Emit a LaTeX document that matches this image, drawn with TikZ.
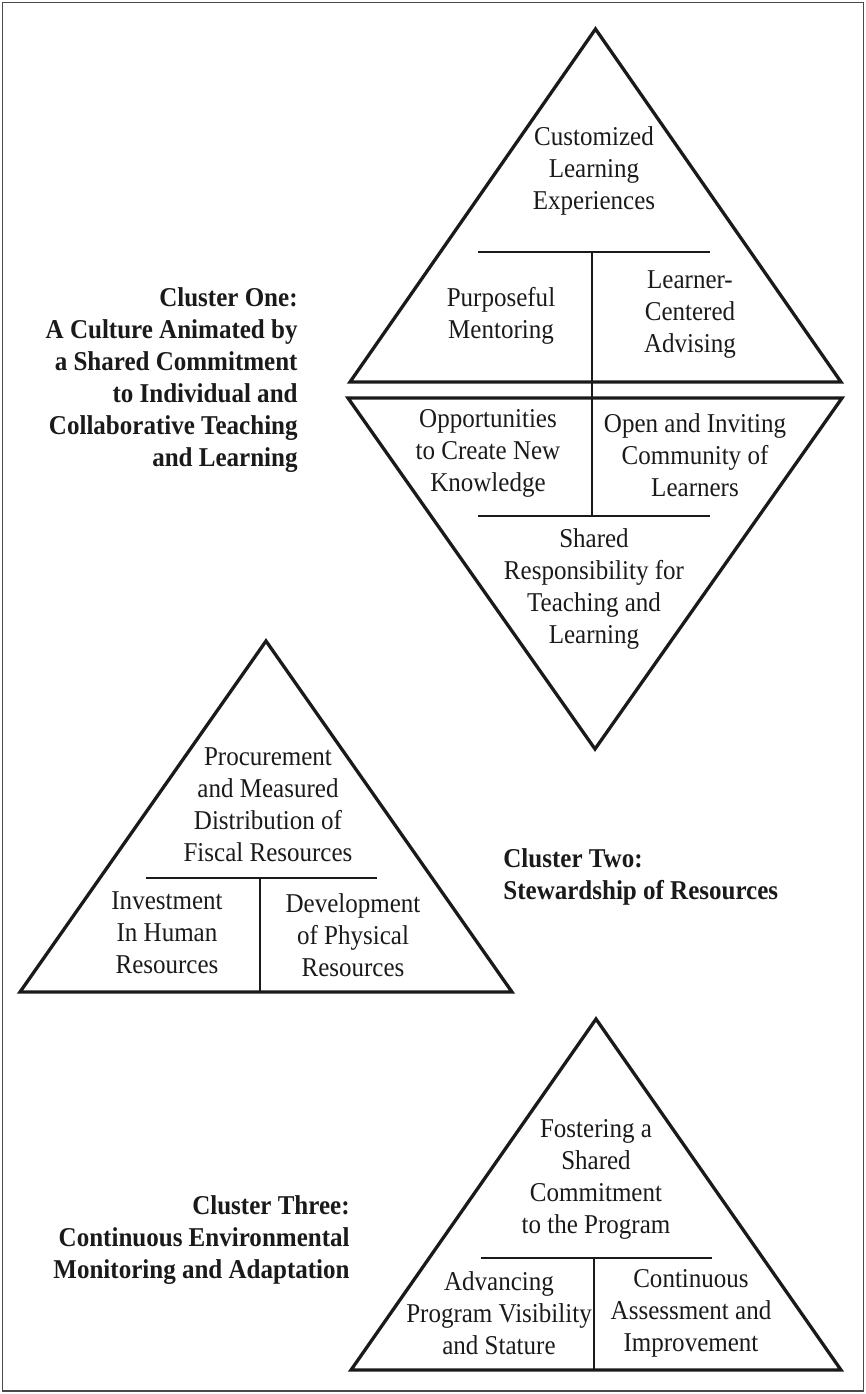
\documentclass[tikz,border=0pt]{standalone}
\usepackage{fontspec}
\setmainfont{Liberation Serif}[FakeStretch=0.92]
\usepackage{xcolor}
\usepackage{tikz}
\usetikzlibrary{positioning}
\definecolor{FrameGray}{HTML}{4A4A4A}
\definecolor{Ink}{HTML}{1A1A1A}
\tikzset{
  outline/.style={draw=Ink, line width=1.65pt, line join=miter},
  divider/.style={draw=Ink, line width=0.65pt},
  facet/.style={font=\fontsize{13.6}{16}\selectfont, text=Ink, align=center, inner sep=0pt},
  cluster/.style={font=\fontsize{13.6}{16}\selectfont\bfseries, text=Ink, inner sep=0pt},
}

\begin{document}
\begin{tikzpicture}[x=0.5pt, y=-0.5pt]
  \useasboundingbox (0,0) rectangle (866,1394);
  \draw[FrameGray, line width=0.75pt] (2.5,2.5) rectangle (863.5,1391);

  % cluster one: triangle over an inverted triangle
  \draw[outline] (595.5,29) -- (841,382) -- (350,382) -- cycle;
  \draw[outline] (348,398) -- (842,398) -- (595,749) -- cycle;
  \draw[divider] (478,252) -- (710,252);
  \draw[divider] (478,516) -- (710,516);
  \draw[divider] (592,252) -- (592,516);

  \node[facet] (custom) at (594,171) {Customized\\Learning\\Experiences};
  \node[facet] (mentor) at (501,315.5) {Purposeful\\Mentoring};
  \node[facet] (advise) at (690,314.5) {Learner-\\Centered\\Advising};
  \node[facet] (create) at (488,453) {Opportunities\\to Create New\\Knowledge};
  \node[facet] (invite) at (695,455) {Open and Inviting\\Community of\\Learners};
  \node[facet] (shared) at (594,589) {Shared\\Responsibility for\\Teaching and\\Learning};
  \node[cluster, align=right, anchor=east] (clusterone) at (298,380)
    {Cluster One:\\A Culture Animated by\\a Shared Commitment\\to Individual and\\Collaborative Teaching\\and Learning};

  % cluster two
  \draw[outline] (266,641) -- (512,992) -- (20,992) -- cycle;
  \draw[divider] (146,878) -- (377,878);
  \draw[divider] (260,878) -- (260,992);

  \node[facet] (fiscal) at (268,805) {Procurement\\and Measured\\Distribution of\\Fiscal Resources};
  \node[facet] (human) at (167,933) {Investment\\In Human\\Resources};
  \node[facet] (physical) at (353,935) {Development\\of Physical\\Resources};
  \node[cluster, align=left, anchor=west] (clustertwo) at (503,877)
    {Cluster Two:\\Stewardship of Resources};

  % cluster three
  \draw[outline] (596,1019) -- (841,1370) -- (351,1370) -- cycle;
  \draw[divider] (481,1258) -- (712,1258);
  \draw[divider] (594,1258) -- (594,1370);

  \node[facet] (foster) at (596,1179.5) {Fostering a\\Shared\\Commitment\\to the Program};
  \node[facet] (stature) at (499,1313) {Advancing\\Program Visibility\\and Stature};
  \node[facet] (assess) at (691,1313) {Continuous\\Assessment and\\Improvement};
  \node[cluster, align=right, anchor=east] (clusterthree) at (350,1240)
    {Cluster Three:\\Continuous Environmental\\Monitoring and Adaptation};
\end{tikzpicture}
\end{document}
